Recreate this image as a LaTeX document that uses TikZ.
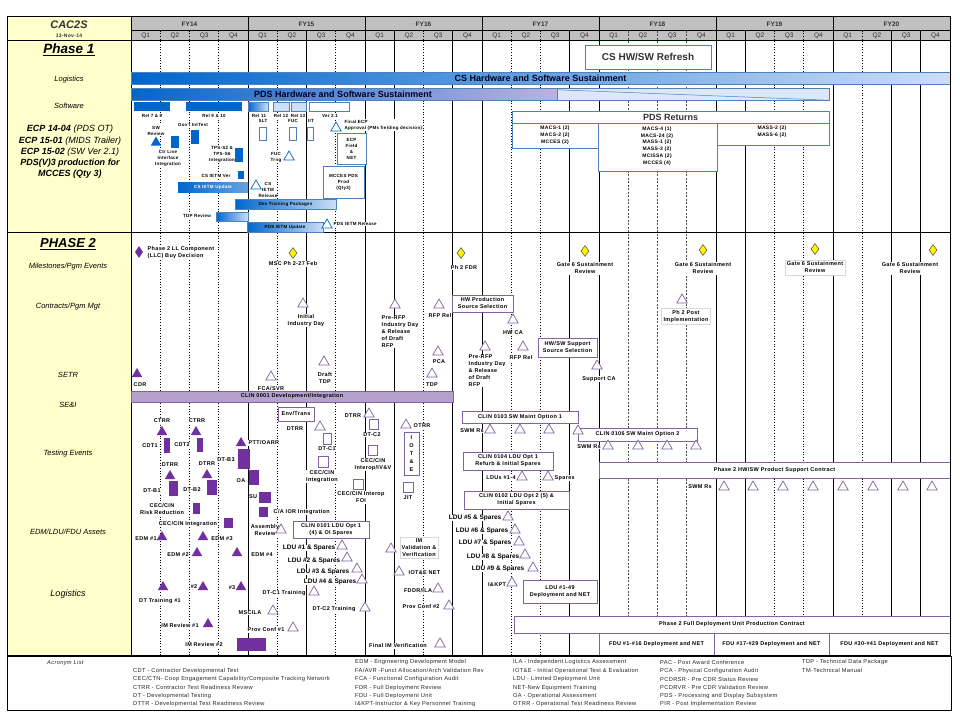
\documentclass[tikz,border=0pt]{standalone}
\usepackage{fontspec}
\setmainfont{Liberation Sans}
\newfontfamily\smf[LetterSpace=6]{Liberation Sans}
\usetikzlibrary{shapes.geometric}
\definecolor{bl}{RGB}{0,102,204}
\definecolor{blL}{RGB}{205,222,245}
\definecolor{blB}{RGB}{79,129,189}
\definecolor{pu}{RGB}{112,48,160}
\definecolor{puO}{RGB}{128,100,162}
\definecolor{puL}{RGB}{180,162,204}
\definecolor{yel}{RGB}{255,255,204}
\definecolor{hdr}{RGB}{192,192,192}
\newcounter{nn}
\newcommand\T[4][]{\stepcounter{nn}\node[lab,#1] (t\arabic{nn}) at (#2,#3) {#4};}
\newcommand\OT[3][puO]{\stepcounter{nn}\node[otri,draw=#1] (o\arabic{nn}) at (#2,#3) {};}
\newcommand\FT[3][pu]{\stepcounter{nn}\node[ftri,fill=#1] (f\arabic{nn}) at (#2,#3) {};}
\newcommand\YD[2]{\stepcounter{nn}\node[ydia] (d\arabic{nn}) at (#1,#2) {};}
\newcommand\BX[6][]{\stepcounter{nn}\pgfmathsetmacro\bw{#4-#2}\pgfmathsetmacro\bh{#5-#3}\node[sm,#1,minimum width=\bw pt,minimum height=\bh pt,inner sep=0pt] (b\arabic{nn}) at ({(#2+#4)/2},{(#3+#5)/2}) {#6};}
\begin{document}
\begin{tikzpicture}[x=1pt,y=-1pt,
  sm/.style={font=\smf\bfseries\fontsize{5.5}{7}\selectfont, inner sep=0.5pt, align=center},
  lab/.style={sm, fill=white},
  pone/.style={font=\smf\bfseries\fontsize{4.5}{6}\selectfont},
  ldu/.style={font=\bfseries\fontsize{6.5}{7.5}\selectfont},
  otri/.style={regular polygon, regular polygon sides=3, fill=white, line width=0.7pt, minimum size=12pt, inner sep=0pt},
  ftri/.style={regular polygon, regular polygon sides=3, minimum size=12pt, inner sep=0pt},
  ydia/.style={diamond, draw=black!70, fill=yellow, line width=0.5pt, minimum width=8pt, minimum height=11pt, inner sep=0pt},
  pbox/.style={draw=puO, line width=0.9pt, fill=white},
  bbox/.style={draw=blB, line width=0.9pt, fill=white},
  side/.style={font=\itshape\fontsize{7.5}{9}\selectfont, inner sep=0pt},
  ac/.style={font=\smf\fontsize{5.7}{6}\selectfont, anchor=west, inner sep=0pt, text=black!85},
  grid/.style={line width=0.7pt},
  bigbar/.style={font=\bfseries\fontsize{9}{10}\selectfont, text=black!85!blue}]
\useasboundingbox (0,0) rectangle (960,720);
\fill[white] (0,0) rectangle (960,720);
% ---------- frame, header ----------
\fill[yel] (7,16) rectangle (131,655);
\fill[hdr] (131,16) rectangle (950,40);
\foreach \i in {1,2,3,5,7,10,13,14,22,23,25} \draw[grid,dotted] ({131+29.25*\i},30.5) -- ({131+29.25*\i},655);
\foreach \i in {6,9,11,15,21,26,27} \draw[grid] ({131+29.25*\i},30.5) -- ({131+29.25*\i},655);
\foreach \i in {17,18,19} \draw[grid,dash pattern=on 2pt off 1.5pt,black!70] ({131+29.25*\i},30.5) -- ({131+29.25*\i},655);
\foreach \i in {4,8,12,16,20,24} \draw[grid] ({131+29.25*\i},16) -- ({131+29.25*\i},655);
\draw[grid] (131,16) -- (131,655);
\draw[grid] (131,30.5) -- (950,30.5);
\draw[grid] (7,40) -- (950,40);
\draw[grid] (7,232.5) -- (950,232.5);
\draw[line width=0.9pt] (7,16) rectangle (950,655);
\foreach \f [count=\k from 0] in {14,15,16,17,18,19,20}
  \node[font=\bfseries\fontsize{6.5}{7}\selectfont, text=black!80] (fy\f) at ({131+117*\k+58.5},24) {FY\f};
\foreach \i in {0,...,27} {
  \pgfmathtruncatemacro\q{mod(\i,4)+1}
  \node[font=\fontsize{6.5}{7}\selectfont, text=black!80] (q\i) at ({131+29.25*(\i+0.5)},35.5) {Q\q};
}
\node[font=\bfseries\itshape\fontsize{11}{12}\selectfont, text=black!80] (title) at (69,25) {CAC2S};
\node[font=\smf\bfseries\fontsize{5}{6}\selectfont, text=black!80] (date) at (69,35.7) {13-Nov-14};
% ---------- left column labels ----------
\node[font=\bfseries\itshape\fontsize{13.5}{15}\selectfont] (ph1) at (69,50) {\underline{Phase 1}};
\node[side] (l1) at (69,80) {Logistics};
\node[side] (l2) at (69,106) {Software};
\node[font=\itshape\fontsize{9}{11.3}\selectfont, align=center, inner sep=0pt] (ecp) at (70,152)
 {\textbf{ECP 14-04}  (PDS OT)\\\textbf{ECP 15-01}  (MIDS Trailer)\\\textbf{ECP 15-02}  (SW Ver 2.1)\\\textbf{PDS(V)3 production for}\\\textbf{MCCES (Qty 3)}};
\node[font=\bfseries\itshape\fontsize{13}{15}\selectfont] (ph2) at (68,244) {\underline{PHASE 2}};
\node[side] (l3) at (68,267) {Milestones/Pgm Events};
\node[side] (l4) at (68,307) {Contracts/Pgm Mgt};
\node[side] (l5) at (68,375) {SETR};
\node[side] (l6) at (68,405) {SE\&I};
\node[side] (l7) at (68,454) {Testing Events};
\node[side] (l8) at (68,532) {EDM/LDU/FDU Assets};
\node[side, font=\itshape\fontsize{9}{10}\selectfont] (l9) at (68,594) {Logistics};
% ---------- Phase 1 ----------
\BX[bbox, font=\bfseries\fontsize{10}{11}\selectfont, text=black!80]{585}{45}{711}{69}{CS HW/SW Refresh}
\BX[bigbar, left color=bl, right color=blL, draw=blB, line width=0.5pt]{131}{72}{950}{84}{CS Hardware and Software Sustainment}
\BX[fill=blL!70, draw=blB, line width=0.5pt]{557}{88}{829}{100}{}
\draw[blB, line width=0.5pt] (b\arabic{nn}.north west) ++(0,2) -- (b\arabic{nn}.south east);
\BX[bigbar, left color=bl, right color=blL!80!violet, draw=blB, line width=0.5pt]{131}{88}{557}{100}{}
\node[bigbar] (pdsbar) at (343,94) {PDS Hardware and Software Sustainment};
% releases
\BX[fill=bl]{134}{102}{170}{111}{}
\BX[fill=bl]{186}{102}{242}{111}{}
\BX[left color=bl, right color=blL, draw=blB]{248}{102}{268}{111}{}
\BX[fill=blL, draw=blB, line width=0.6pt]{273}{102}{289}{111}{}
\BX[fill=blL, draw=blB, line width=0.6pt]{291}{102}{306}{111}{}
\BX[bbox, line width=0.6pt]{309}{102}{349}{111}{}
\T[pone]{152}{115.5}{Rel 7 \& 8}
\T[pone]{214}{115.5}{Rel 9 \& 10}
\T[pone]{259}{115.5}{Rel 11}
\T[pone]{281}{115.5}{Rel 12}
\T[pone]{298}{115.5}{Rel 13}
\T[pone]{330}{115.5}{Ver 2.1}
\T[pone]{156}{130.5}{SW\\Review}
\FT[bl]{156}{142.5}
\BX[fill=bl]{171}{136}{179}{148}{}
\T[pone]{193}{125}{Gov't IntTest}
\BX[fill=bl]{191}{130}{199}{144}{}
\T[pone]{168}{158}{Ctr Live\\Interface\\Integration}
\T[pone]{222}{154}{TPS-S2 \&\\TPS-S6\\Integration}
\BX[fill=bl]{235}{148}{243}{162}{}
\T[pone]{216}{176}{CS IETM Ver}
\BX[fill=bl]{238}{171}{244}{179}{}
\BX[pone, left color=bl, right color=bl!60!white, text=white]{178}{182}{248}{192}{CS IETM Update}
\T[pone, fill=none]{268}{189.5}{CS\\IETM\\Release}
\OT[bl]{256}{186}
\T[pone]{263}{121}{SLT}
\BX[fill=white, draw=blB, line width=0.6pt]{259}{127}{266}{140}{}
\T[pone]{293}{121}{FUC}
\BX[fill=white, draw=blB, line width=0.6pt]{289}{127}{296}{140}{}
\T[pone]{311}{121}{IIT}
\BX[fill=white, draw=blB, line width=0.6pt]{307}{127}{313}{140}{}
\T[pone]{276}{157}{FUC\\Trng}
\OT[bl]{289}{157}
\T[pone, anchor=west, align=left]{344}{125}{Final ECP\\Approval (PMs fielding decision)}
\OT[bl]{336}{128}
\BX[bbox, pone]{337}{133}{366}{164}{ECP\\Field\\\&\\NET}
\BX[bbox, pone]{323}{166}{364}{198}{MCCES PDS\\Prod\\(Qty3)}
\BX[pone, left color=bl, right color=blL, draw=blB, line width=0.5pt]{235}{199}{336}{209}{Dev Training Packages}
\T[pone]{197}{216}{TDP Review}
\BX[left color=bl, right color=blL, draw=blB, line width=0.5pt]{216}{212}{248}{221}{}
\BX[pone, left color=bl, right color=blL, draw=blB, line width=0.5pt]{247}{222}{323}{232}{PDS IETM Update}
\T[pone, anchor=west]{333}{224}{PDS IETM Release}
\OT[bl]{327}{225}
% PDS returns
\BX[bbox, font=\bfseries\fontsize{9}{10}\selectfont, text=black!80]{512}{111}{829}{123}{PDS Returns}
\BX[bbox]{512}{123}{598}{148}{}
\BX[bbox]{598}{123}{717}{171}{}
\BX[bbox]{717}{123}{829}{145}{}
\node[sm, font=\smf\bfseries\fontsize{5}{6.8}\selectfont] (r1) at (555,135.5) {MACS-1 (2)\\MACS-2 (2)\\MCCES (2)};
\node[sm, font=\smf\bfseries\fontsize{5}{6.8}\selectfont] (r2) at (657,146) {MACS-4 (1)\\MACS-24 (2)\\MASS-1 (2)\\MASS-3 (2)\\MCISSA (2)\\MCCES (4)};
\node[sm, font=\smf\bfseries\fontsize{5}{6.8}\selectfont] (r3) at (772,131.5) {MASS-2 (2)\\MASS-6 (2)};
% ---------- Phase 2: milestones ----------
\stepcounter{nn}\node[diamond, fill=pu, minimum width=8pt, minimum height=12pt, inner sep=0pt] (pd) at (139,252) {};
\T[anchor=west, align=left]{147}{252.5}{Phase 2 LL Component\\(LLC)  Buy Decision}
\T{293}{264}{MSC Ph 2-27 Feb}
\YD{293}{253}
\T{464}{267.5}{Ph 2 FDR}
\YD{461}{253}
\T{585}{268.5}{Gate 6 Sustainment\\Review}
\YD{585}{251}
\T{703}{268.5}{Gate 6 Sustainment\\Review}
\YD{703}{250}
\T[draw=black!15, inner sep=2pt]{815}{267.5}{Gate 6 Sustainment\\Review}
\YD{815}{249}
\T{910}{268.5}{Gate 6 Sustainment\\Review}
\YD{933}{250}
% contracts
\T{306}{320.5}{Initial\\Industry Day}
\OT{303}{304}
\T[anchor=north west, align=left]{381}{315.5}{Pre-RFP\\Industry Day\\\& Release\\of Draft\\RFP}
\OT{395}{305}
\T{440}{316}{RFP Rel}
\OT{439}{305}
\BX[pbox]{452}{295}{513}{312}{HW Production\\Source Selection}
\T{513}{333}{HW CA}
\OT{513}{320}
\T[anchor=north west, align=left]{468}{354.5}{Pre-RFP\\Industry Day\\\& Release\\of Draft\\RFP}
\OT{485}{347}
\T{521}{358}{RFP Rel}
\OT{523}{347}
\BX[pbox]{538}{338}{597}{357}{HW/SW Support\\Source Selection}
\T{599}{379}{Support CA}
\OT{597}{366}
\T[draw=black!15, inner sep=2pt]{686}{316.5}{Ph 2 Post\\Implementation}
\OT{682}{300}
% SETR
\T{140}{385}{CDR}
\FT{137}{374}
\T{271}{389}{FCA/SVR}
\OT{271}{377}
\T{325}{378.5}{Draft\\TDP}
\OT{324}{362}
\T{439}{362}{PCA}
\OT{438}{352}
\T{432}{385}{TDP}
\OT{432}{374}
% SE&I
\BX[fill=puL, draw=puO, line width=0.8pt]{131}{391}{453}{402}{CLIN 0001 Development/Integration}
% ---------- testing events ----------
\T{162}{421}{CTRR} \FT{162}{432}
\T{197}{421}{CTRR} \FT{196}{432}
\T{150}{446}{CDT1} \BX[fill=pu]{164}{438}{170}{453}{}
\T{182}{445}{CDT2} \BX[fill=pu]{197}{438}{203}{452}{}
\T{170}{465}{DTRR} \FT{170}{476} \BX[fill=pu]{169}{481}{178}{496}{}
\T{152}{491}{DT-B1}
\T{207}{464}{DTRR} \FT{207}{475} \BX[fill=pu]{207}{480}{217}{495}{}
\T{192}{490}{DT-B2}
\T[anchor=west]{248}{443}{PTT/OARR} \FT{241}{443}
\T{226}{460}{DT-B3} \BX[fill=pu]{238}{449}{250}{469}{}
\T{241}{481}{OA} \BX[fill=pu]{249}{470}{259}{485}{}
\T{253}{497}{SU} \BX[fill=pu]{259}{492}{271}{503}{}
\T{162}{509.5}{CEC/CIN\\Risk Reduction} \BX[fill=pu]{193}{503}{200}{514}{}
\T[anchor=west]{273}{512}{C/A IOR Integration} \BX[fill=pu]{259}{507}{268}{517}{}
\T{188}{524}{CEC/CIN Integration} \BX[fill=pu]{224}{518}{233}{528}{}
\BX[pbox]{278}{407}{314}{421}{Env/Trans}
\T{295}{429}{DTRR} \OT{320}{427}
\BX[pbox, line width=0.7pt]{323}{433}{331}{444}{}
\T{327}{449}{DT-C1}
\BX[pbox, line width=0.7pt]{318}{456}{328}{467}{}
\T{322}{476.5}{CEC/CIN\\Integration}
\T{353}{416}{DTRR} \OT{369}{414}
\BX[pbox, line width=0.7pt]{369}{419}{378}{429}{}
\T{372}{435}{DT-C2}
\BX[pbox, line width=0.7pt]{368}{445}{377}{455}{}
\T{373}{464.5}{CEC/CIN\\Interop/IV\&V}
\BX[pbox, line width=0.7pt]{353}{479}{363}{489}{}
\T{361}{497.5}{CEC/CIN Interop\\FOI}
\T[anchor=west]{413}{426}{OTRR} \OT{406}{425}
\BX[pbox, font=\smf\bfseries\fontsize{5.5}{8}\selectfont]{404}{432}{419}{475}{I\\O\\T\\\&\\E}
\BX[pbox, line width=0.7pt]{403}{482}{413}{492}{}
\T{408}{498}{JIT}
% SW maint
\BX[pbox]{462}{411}{578}{423}{CLIN 0103 SW Maint Option 1}
\T{472}{431}{SWM Rs}
\foreach \x in {490,520,549} {\OT{\x}{430}}
\BX[pbox]{578}{428}{697}{441}{CLIN 0106 SW Maint Option 2}
\T{589}{447}{SWM Rs}
\OT{578}{431}
\foreach \x in {608,638,667,696} {\OT{\x}{446}}
\BX[pbox]{463}{452}{553}{470}{CLIN 0104 LDU Opt 1\\Refurb \& Initial Spares}
\T{501}{478}{LDUs \#1-4} \OT{522}{477} \OT{548}{477}
\T[anchor=west]{554}{478}{Spares}
\BX[pbox]{464}{491}{569}{509}{CLIN 0102 LDU Opt 2 (5) \&\\Initial Spares}
\BX[pbox]{599}{462}{950}{478}{Phase 2 HW/SW  Product Support Contract}
\T{700}{487}{SWM Rs}
\foreach \x in {724,753,783,813,843,873,903,932} {\OT{\x}{487}}
% ---------- EDM/LDU/FDU ----------
\T{265}{530}{Assembly\\Review} \OT{281}{530}
\BX[pbox]{293}{521}{369}{538}{CLIN 0101 LDU Opt 1\\(4) \& OI Spares}
\T{146}{539}{EDM  \#1} \FT{162}{537}
\T{222}{539}{EDM  \#3} \FT{203}{537}
\T{178}{555}{EDM  \#2} \FT{197}{553}
\T{262}{555}{EDM  \#4} \FT{237}{553}
\T[ldu, anchor=east]{336}{548}{LDU \#1 \& Spares} \OT{342}{546}
\T[ldu, anchor=east]{341}{561}{LDU \#2 \& Spares} \OT{347}{558}
\T[ldu, anchor=east]{350}{572}{LDU \#3 \& Spares} \OT{357}{569}
\T[ldu, anchor=east]{357}{582}{LDU \#4 \& Spares} \OT{362}{580}
\T[draw=black!15, inner sep=1.5pt]{419}{547.5}{IM\\Validation \&\\Verification} \OT{391}{549}
\T[ldu, anchor=east]{502}{518}{LDU \#5 \& Spares} \OT{508}{517}
\T[ldu, anchor=east]{509}{531}{LDU \#6 \& Spares} \OT{515}{530}
\T[ldu, anchor=east]{512}{543}{LDU \#7 \& Spares} \OT{519}{542}
\T[ldu, anchor=east]{520}{557}{LDU \#8 \& Spares} \OT{525}{555}
\T[ldu, anchor=east]{525}{569}{LDU \#9 \& Spares} \OT{533}{568}
\T{497}{585}{I\&KPT} \OT{512}{583}
\BX[pbox]{523}{580}{597}{603}{LDU \#1-49\\Deployment and NET}
\BX[pbox]{514}{616}{950}{633}{Phase 2 Full Deployment Unit Production Contract}
\BX[pbox]{599}{633}{714}{655}{FDU \#1-\#16 Deployment and NET}
\BX[pbox]{714}{633}{829}{655}{FDU  \#17-\#29 Deployment and NET}
\BX[pbox]{829}{633}{950}{655}{FDU \#30-\#41 Deployment and NET}
% ---------- logistics ----------
\T{160}{601}{DT Training  \#1} \FT{163}{587}
\T{194}{587}{\#2} \FT{203}{587}
\T{232}{588}{\#3} \FT{241}{587}
\T{284}{593}{DT-C1 Training} \OT{314}{592}
\T{334}{609}{DT-C2 Training} \OT{365}{608}
\T{250}{613}{MSCILA} \OT{273}{611}
\T{266}{630}{Prov Conf \#1} \OT{293}{628}
\T{180}{626}{IM Review \#1} \FT{208}{624}
\T{204}{645}{IM Review \#2} \BX[fill=pu]{237}{638}{266}{651}{}
\T[anchor=west]{408}{573}{IOT\&E NET} \OT{399}{572}
\T{418}{591}{FDDR/ILA} \OT{438}{589}
\T{421}{607}{Prov Conf \#2} \OT{449}{606}
\T{398}{646}{Final IM Verification} \OT{440}{644}
% redraw frame edges over boxes
\draw[line width=0.9pt] (7,16) rectangle (950,655);
% ---------- acronym list ----------
\draw[line width=0.9pt] (7,656) rectangle (951,710);
\node[ac, font=\smf\itshape\fontsize{5.7}{6}\selectfont] (acr) at (47,663) {Acronym List};
\foreach \t [count=\k] in {{CDT - Contractor Developmental Test},{CEC/CTN- Coop Engagement Capability/Composite Tracking Network},{CTRR - Contractor Test Readiness Review},{DT - Developmental Testing},{DTTR - Developmental Test Readiness Review}}
  \node[ac] (a2\k) at (133,{662.5+8.4*\k}) {\t};
\foreach \t [count=\k from 0] in {{EDM - Engineering Development Model},{FA/AVR -Funct Allocation/Arch Validation Rev},{FCA - Functional Configuration Audit},{FDR - Full Deployment Review},{FDU - Full Deployment Unit},{I\&KPT-Instructor \& Key Personnel Training}}
  \node[ac] (a3\k) at (355,{662.5+8.4*\k}) {\t};
\foreach \t [count=\k from 0] in {{ILA - Independent Logistics Assessment},{IOT\&E - Initial Operational Test \& Evaluation},{LDU - Limited Deployment Unit},{NET-New Equipment Training},{OA - Operational Assessment},{OTRR - Operational Test Readiness Review}}
  \node[ac] (a4\k) at (513,{662.5+8.4*\k}) {\t};
\foreach \t [count=\k from 0] in {{PAC - Post Award Conference},{PCA - Physical Configuration Audit},{PCDRSR - Pre CDR Status Review},{PCDRVR - Pre CDR Validation Review},{PDS - Processing and Display Subsystem},{PIR - Post Implementation Review}}
  \node[ac] (a5\k) at (660,{662.5+8.4*\k}) {\t};
\foreach \t [count=\k from 0] in {{TDP - Technical Data Package},{TM-Technical Manual}}
  \node[ac] (a6\k) at (802,{662.5+8.4*\k}) {\t};
\end{tikzpicture}
\end{document}
